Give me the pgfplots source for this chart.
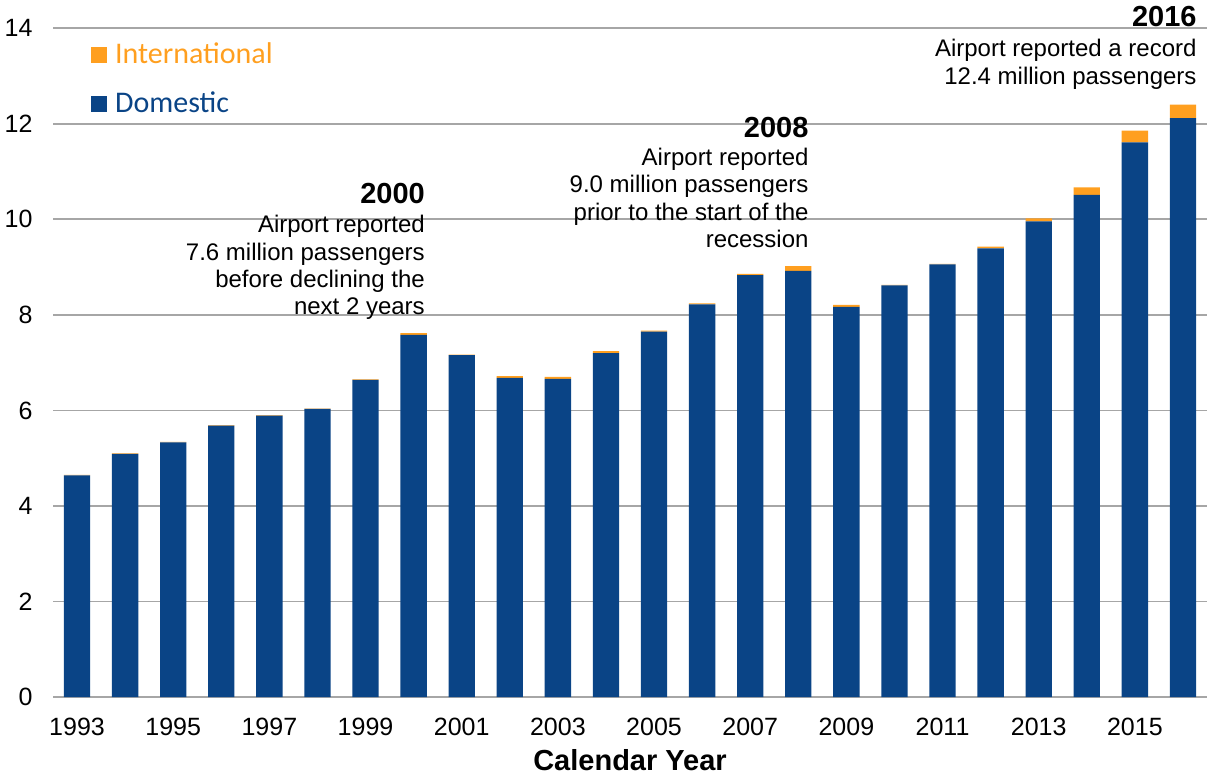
\documentclass[border=0pt]{standalone}
\usepackage{pgfplots}
\pgfplotsset{compat=1.18}
\usepackage{pgfplotstable}
\usepackage{fontspec}
\setmainfont{Liberation Sans}
\newfontfamily\legendfont{Carlito}
\usetikzlibrary{calc}
\definecolor{dom}{HTML}{0A4486}
\definecolor{intl}{HTML}{FF9F1F}
\definecolor{gridgray}{HTML}{A6A6A6}
\pgfplotstableread{
year dom intl
1993 4.64 0.01
1994 5.09 0.01
1995 5.33 0.01
1996 5.68 0.01
1997 5.89 0.01
1998 6.03 0.01
1999 6.64 0.01
2000 7.58 0.04
2001 7.16 0.01
2002 6.68 0.04
2003 6.66 0.04
2004 7.20 0.04
2005 7.65 0.02
2006 8.22 0.02
2007 8.83 0.03
2008 8.92 0.10
2009 8.17 0.04
2010 8.62 0.01
2011 9.06 0.01
2012 9.39 0.04
2013 9.96 0.06
2014 10.51 0.16
2015 11.61 0.25
2016 12.12 0.28
}\datatable
\begin{document}
\begin{tikzpicture}
\begin{axis}[
  scale only axis, width=577pt, height=334.35pt,
  xmin=1992.5, xmax=2016.5, ymin=0, ymax=14,
  clip=false,
  ybar stacked, bar width=13.15pt,
  axis line style={draw=none},
  ymajorgrids, grid style={color=gridgray, line width=0.9pt},
  major tick length=0pt,
  ytick={0,2,...,14},
  xtick={1993,1995,...,2015},
  /pgf/number format/assume math mode=true,
  /pgf/number format/1000 sep={},
  tick label style={font=\fontsize{12.5}{15}\selectfont},
  x tick label style={yshift=-7.2pt},
  y tick label style={xshift=-6.7pt},
  xlabel={Calendar Year},
  xlabel style={font=\fontsize{14.5}{17}\selectfont\bfseries, at={(axis description cs:0.5,0)}, anchor=base, yshift=-36.5pt},
  reverse legend,
  legend style={draw=none, fill=none, at={(axis description cs:0.033,0.984)}, anchor=north west,
    font=\legendfont\fontsize{15}{18}\selectfont, row sep=8.5pt, inner sep=0pt, outer sep=0pt,
    /tikz/every odd column/.append style={column sep=2pt}},
  legend cell align=left,
  legend image code/.code={\fill[#1] (0pt,-4pt) rectangle (8pt,4pt);},
]
\addplot[fill=dom, draw=none] table[x=year, y=dom] {\datatable};
\addlegendentry{\textcolor{dom}{Domestic}}
\addplot[fill=intl, draw=none] table[x=year, y=intl] {\datatable};
\addlegendentry{\textcolor{intl}{International}}

\node[anchor=base east, inner sep=0pt, font=\fontsize{14.5}{17}\selectfont\bfseries] at (axis cs:2000.24,10.34) {2000};
\node[anchor=base east, inner sep=0pt, align=right, font=\fontsize{12}{13.7}\selectfont] at (axis cs:2000.24,8.00) {Airport reported\\7.6 million passengers\\before declining the\\next 2 years};

\node[anchor=base east, inner sep=0pt, font=\fontsize{14.5}{17}\selectfont\bfseries] at (axis cs:2008.22,11.72) {2008};
\node[anchor=base east, inner sep=0pt, align=right, font=\fontsize{12}{13.7}\selectfont] at (axis cs:2008.22,9.41) {Airport reported\\9.0 million passengers\\prior to the start of the\\recession};

\node[anchor=base east, inner sep=0pt, font=\fontsize{14.5}{17}\selectfont\bfseries] at (axis cs:2016.29,14.03) {2016};
\node[anchor=base east, inner sep=0pt, align=right, font=\fontsize{12}{13.7}\selectfont] at (axis cs:2016.29,12.83) {Airport reported a record\\12.4 million passengers};
\end{axis}
\pgfresetboundingbox
\useasboundingbox ($(current axis.south west)+(-26.5pt,-40pt)$) rectangle ($(current axis.north east)+(0pt,14.15pt)$);
\end{tikzpicture}
\end{document}
